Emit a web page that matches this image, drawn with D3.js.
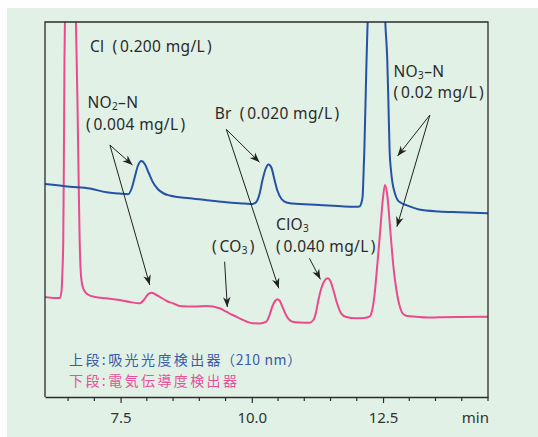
<!DOCTYPE html>
<html><head><meta charset="utf-8">
<script src="https://cdn.jsdelivr.net/npm/d3@7/dist/d3.min.js"></script>
<style>
html,body{margin:0;padding:0;background:#fff;}
svg{display:block;}
</style></head>
<body>
<svg id="c" width="538" height="437"></svg>
<script>
// ---- data (retention time in min, detector signal in arbitrary units) ----
// upper trace: UV absorbance detector (210 nm)
const uvTime = [
  6.06, 6.535, 6.916, 7.233, 7.486, 7.644, 7.714, 7.771, 7.828, 7.898,
  7.961, 8.037, 8.113, 8.208, 8.322, 8.436, 8.817, 9.197, 9.514, 9.862,
  10.014, 10.085, 10.147, 10.204, 10.262, 10.319, 10.376, 10.433, 10.49, 10.567,
  10.662, 10.775, 11.288, 11.763, 11.986, 12.049, 12.087, 12.111, 12.128, 12.144,
  12.163, 12.186, 12.207, 12.258, 12.372, 12.486, 12.543, 12.581, 12.606, 12.625,
  12.651, 12.682, 12.724, 12.777, 12.847, 12.936, 13.189, 13.569, 13.95, 14.5];
const uvValue = [
  213, 210.3, 208.5, 204.7, 203.5, 202.7, 209, 220, 231, 236,
  233, 224, 215, 208, 203.5, 201.5, 198.7, 196.5, 194.7, 193.5,
  193, 195, 203, 217, 228, 232.5, 229, 217, 206, 198,
  194.5, 193.5, 192, 190.5, 190.3, 190.5, 194, 200.3, 222, 247,
  287, 337, 375, 477, 557, 477, 375, 337, 287, 247,
  227, 213.7, 204, 197, 194, 192, 187.5, 185.5, 184.7, 183.7];
// lower trace: conductivity detector
const cdTime = [
  6.06, 6.25, 6.345, 6.377, 6.393, 6.408, 6.421, 6.431, 6.44, 6.478,
  6.535, 6.592, 6.649, 6.678, 6.701, 6.72, 6.739, 6.763, 6.801, 6.878,
  7.011, 7.233, 7.486, 7.676, 7.866, 7.942, 8.018, 8.089, 8.17, 8.284,
  8.398, 8.499, 8.627, 8.912, 9.134, 9.387, 9.514, 9.634, 9.767, 9.9,
  10.02, 10.147, 10.275, 10.338, 10.395, 10.452, 10.484, 10.528, 10.585, 10.661,
  10.78, 10.908, 11.098, 11.174, 11.225, 11.269, 11.326, 11.383, 11.446, 11.497,
  11.554, 11.611, 11.701, 11.801, 11.986, 12.144, 12.239, 12.286, 12.334, 12.391,
  12.448, 12.495, 12.537, 12.581, 12.638, 12.695, 12.777, 12.828, 12.872, 12.961,
  13.127, 13.341, 13.569, 13.95, 14.5];
const cdValue = [
  100, 99, 99, 107, 127, 157, 247, 337, 375, 520,
  600, 540, 375, 297, 217, 157, 127, 114, 107, 102.5,
  100, 98.7, 97, 95, 93.7, 97, 102.5, 104.3, 102.5, 99,
  95.5, 93.7, 91, 90.5, 91, 88.7, 85.3, 82, 78.7, 75.5,
  73.7, 73.5, 75.3, 82, 91, 96.5, 97.7, 96.5, 90, 81,
  75.3, 74.5, 74.3, 77, 85, 97, 109, 116, 118.7, 116,
  107, 96, 83.7, 80, 78.7, 79, 80.3, 85, 100.3, 132,
  167, 197, 212, 202, 167, 132, 100.3, 89, 83.7, 81,
  80.3, 79.5, 79.7, 80, 80.3];

const xTicksMajor = [7.5, 10.0, 12.5];
const xTicksMinor = [6.5, 7.0, 8.0, 8.5, 9.0, 9.5, 10.5, 11.0, 11.5, 12.0, 13.0, 13.5, 14.0, 14.5];
const xUnit = "min";

// annotation texts, anchored in data units [time, signal]; parts: [text, kind, extra gap]
const labels = [
  {t:6.916, v:345.3, parts:[["Cl"],["(","n",8],["0.200 mg/L","n",2.5],[")","n",2]]},
  {t:6.868, v:288.7, parts:[["NO"],["2","sub"],["–N"]]},
  {t:6.839, v:267,   parts:[["("],["0.004 mg/L","n",2.5],[")","n",2]]},
  {t:9.292, v:277.7, parts:[["Br"],["(","n",8],["0.020 mg/L","n",2.5],[")","n",2]]},
  {t:12.699,v:320.3, parts:[["NO"],["3","sub"],["–N"]]},
  {t:12.701,v:298.7, parts:[["("],["0.02 mg/L","n",2.5],[")","n",2]]},
  {t:10.461,v:167,   parts:[["ClO"],["3","sub"]]},
  {t:10.463,v:145.3, parts:[["("],["0.040 mg/L","n",2.5],[")","n",2]]},
  {t:9.241, v:145.3, parts:[["("],["CO","n",2.5],["3","sub"],[")","n",2]]}
];
// arrows: from [t,v] to [t,v]
const arrows = [
  [[7.296,252],[7.727,232]], [[7.296,252],[8.056,112]],
  [[9.514,267.7],[10.147,234.7]], [[9.514,267.7],[10.514,108.7]],
  [[13.393,282],[12.777,241]], [[13.393,282],[12.765,170.3]],
  [[11.098,138.7],[11.307,117.7]],
  [[9.482,135.3],[9.533,90]]
];
const legendHead = ["上段", "下段"];
const legendBody = ["吸光光度検出器", "電気伝導度検出器"];
const legendTail = ["（210 nm）", ""];
const legendColor = ["#3b5ba7", "#e8509a"];

// ---- drawing ----
const svg = d3.select("#c");
const W = 538, H = 437;
const L = 45, R = 488, T = 22, B = 397;
const FONT = '"Noto Sans","Noto Sans CJK JP",sans-serif';
const FONTJ = '"Noto Sans CJK JP","Noto Sans",sans-serif';
svg.append("rect").attr("x",7).attr("y",8).attr("width",W-7).attr("height",H-8).attr("fill","#e1f1e6");

const x = d3.scaleLinear().domain([6.06,14.5]).range([L,R]);
const y = d3.scaleLinear().domain([0,375]).range([B,T]);

const defs = svg.append("defs");
defs.append("clipPath").attr("id","clip")
  .append("rect").attr("x",L).attr("y",T).attr("width",R-L).attr("height",B-T);
defs.append("marker").attr("id","ah")
  .attr("viewBox","-11 -5 13 10").attr("refX",0).attr("refY",0)
  .attr("markerWidth",13).attr("markerHeight",10).attr("markerUnits","userSpaceOnUse")
  .attr("orient","auto")
  .append("path").attr("d","M0,0 L-10,-3.8 L-7,0 L-10,3.8 Z").attr("fill","#222");

const line = d3.line().x(d=>x(d[0])).y(d=>y(d[1])).curve(d3.curveMonotoneX);
const g = svg.append("g").attr("clip-path","url(#clip)");
g.append("path").datum(d3.zip(cdTime,cdValue)).attr("d",line)
  .attr("fill","none").attr("stroke","#ea4b8d").attr("stroke-width",2);
g.append("path").datum(d3.zip(uvTime,uvValue)).attr("d",line)
  .attr("fill","none").attr("stroke","#2452a6").attr("stroke-width",2);

// frame
svg.append("path").attr("d",`M${L},${B}V${T}H${R}V${B}`).attr("fill","none").attr("stroke","#2b2b2b").attr("stroke-width",1.3);

// axis
const ax = svg.append("g").attr("transform",`translate(0,${B})`)
  .call(d3.axisBottom(x).tickValues(xTicksMajor).tickSize(6).tickSizeOuter(0).tickFormat(d3.format(".1f")));
ax.select(".domain").attr("stroke","#2b2b2b").attr("stroke-width",1.3);
ax.selectAll(".tick line").attr("stroke","#2b2b2b").attr("stroke-width",1.2);
ax.selectAll(".tick text").attr("y",25.7).attr("dy",0).attr("font-size",15).attr("fill","#333").style("font-family",FONT);
svg.append("g").attr("transform",`translate(0,${B})`).selectAll("line").data(xTicksMinor).join("line")
  .attr("x1",d=>x(d)).attr("x2",d=>x(d)).attr("y1",0).attr("y2",4).attr("stroke","#2b2b2b").attr("stroke-width",1.2);
svg.append("text").attr("x",R+1).attr("y",B+25.7).attr("text-anchor","end").attr("font-size",15)
  .attr("fill","#333").style("font-family",FONT).text(xUnit);

// labels
labels.forEach(l=>{
  const t = svg.append("text").attr("x",x(l.t)).attr("y",y(l.v)).attr("font-size",15.5)
    .attr("letter-spacing",0.35).attr("fill","#2a2a2a").style("font-family",FONT);
  let lowered = false;
  l.parts.forEach(p=>{
    const ts = t.append("tspan").text(p[0]);
    if(p[2]) ts.attr("dx",p[2]);
    if(p[1]==="sub"){ ts.attr("font-size",10).attr("dy",2); lowered = true; }
    else if(lowered){ ts.attr("dy",-2); lowered = false; }
  });
});

// arrows
svg.append("g").selectAll("line").data(arrows).join("line")
  .attr("x1",d=>x(d[0][0])).attr("y1",d=>y(d[0][1]))
  .attr("x2",d=>x(d[1][0])).attr("y2",d=>y(d[1][1]))
  .attr("stroke","#222").attr("stroke-width",1).attr("marker-end","url(#ah)");

// legend (two separate lines)
legendHead.forEach((h,i)=>{
  const t = svg.append("text").attr("x",69).attr("y",365.3+i*20.5).attr("font-size",14)
    .attr("fill",legendColor[i]).style("font-family",FONTJ);
  t.append("tspan").attr("letter-spacing",2.4).text(h);
  t.append("tspan").attr("dx",0).text(":");
  t.append("tspan").attr("dx",2.5).attr("letter-spacing",2.4).text(legendBody[i]);
  if(legendTail[i]) t.append("tspan").attr("dx",-2).attr("letter-spacing",0.6).text(legendTail[i]);
});
</script>
</body></html>
